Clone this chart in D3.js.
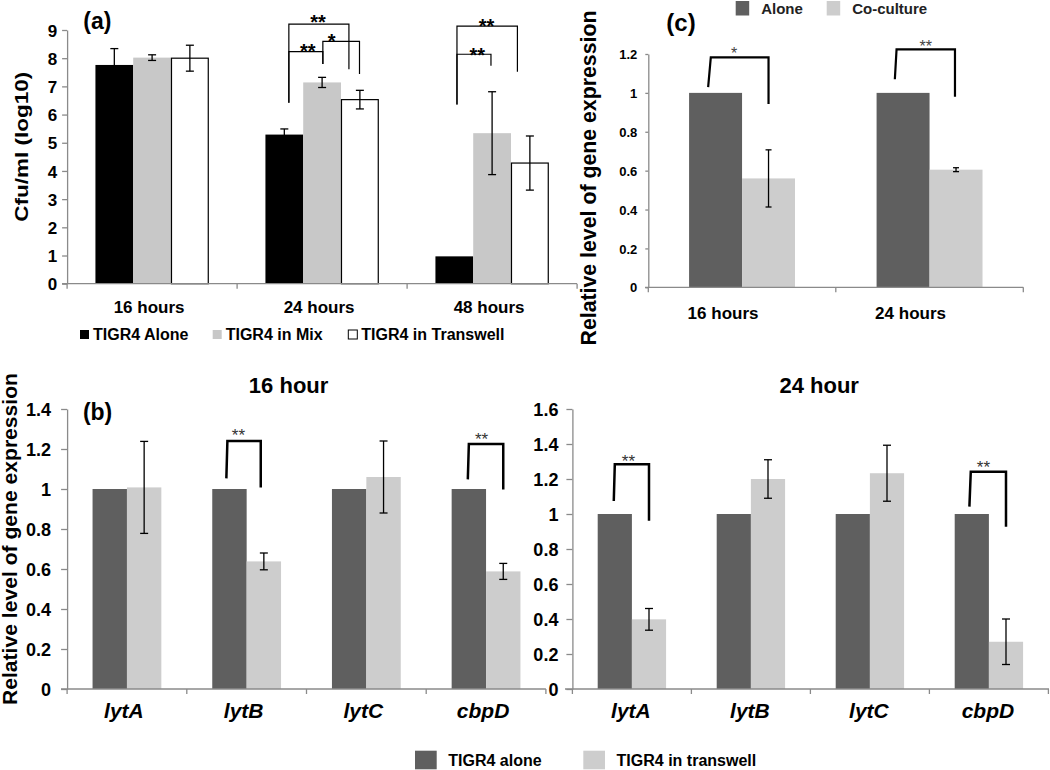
<!DOCTYPE html>
<html><head><meta charset="utf-8">
<script src="https://cdn.jsdelivr.net/npm/d3@7"></script>
<style>
body{margin:0;background:#fff}
svg{display:block}
text{font-family:"Liberation Sans",Arial,Helvetica,sans-serif}
</style>
</head><body>
<svg id="chart" width="1050" height="770"></svg>
<script>
// ---------------- DATA ----------------
// Panel (a)
const aCats = ["16 hours", "24 hours", "48 hours"];
const aSeries = ["TIGR4 Alone", "TIGR4 in Mix", "TIGR4 in Transwell"];
const aAlone = [7.76, 5.29, 0.97];
const aAloneErr = [0.58, 0.2, 0];
const aMix = [8.02, 7.14, 5.34];
const aMixErr = [0.1, 0.18, 1.47];
const aTrans = [8.0, 6.53, 4.28];
const aTransErr = [0.46, 0.33, 0.96];
const aTicks = [0, 1, 2, 3, 4, 5, 6, 7, 8, 9];
// significance brackets (x in bar-width units from group start, y in data units)
const aBrackets = [
  {cat: "24 hours", xl: 0.62, xlt: 0.62, xr: 2.21, yl: 6.42, yt: 9.21, yr: 7.61, label: "**", lx: 1.39, ly: 9.44},
  {cat: "24 hours", xl: 0.62, xlt: 0.62, xr: 1.52, yl: 6.42, yt: 8.23, yr: 7.79, label: "**", lx: 1.12, ly: 8.41},
  {cat: "24 hours", xl: 1.52, xlt: 1.52, xr: 2.49, yl: 7.79, yt: 8.6, yr: 7.44, label: "*", lx: 1.75, ly: 8.79},
  {cat: "48 hours", xl: 0.57, xlt: 0.57, xr: 2.17, yl: 6.36, yt: 9.14, yr: 7.52, label: "**", lx: 1.35, ly: 9.32},
  {cat: "48 hours", xl: 0.57, xlt: 0.57, xr: 1.47, yl: 6.36, yt: 8.14, yr: 7.73, label: "**", lx: 1.11, ly: 8.29}
];

// Panel (c)
const cCats = ["16 hours", "24 hours"];
const cSeries = ["Alone", "Co-culture"];
const cAlone = [1, 1];
const cCo = [0.56, 0.605];
const cCoErr = [0.147, 0.01];
const cTicks = [0, 0.2, 0.4, 0.6, 0.8, 1, 1.2];
const cBrackets = [
  {cat: "16 hours", xl: 0.36, xlt: 0.41, xr: 1.5, yl: 1.03, yt: 1.183, yr: 0.943, label: "*", lx: 0.85, ly: 1.221},
  {cat: "24 hours", xl: 0.345, xlt: 0.377, xr: 1.48, yl: 1.07, yt: 1.224, yr: 0.98, label: "**", lx: 0.93, ly: 1.258}
];

// Panel (b)
const bGenes = ["lytA", "lytB", "lytC", "cbpD"];
const bSeries = ["TIGR4 alone", "TIGR4 in transwell"];
const b16Alone = [1, 1, 1, 1];
const b16Trans = [1.008, 0.638, 1.06, 0.588];
const b16TransErr = [0.23, 0.042, 0.18, 0.04];
const b16Ticks = [0, 0.2, 0.4, 0.6, 0.8, 1, 1.2, 1.4];
const b16Brackets = [
  {cat: "lytB", xl: 0.41, xlt: 0.44, xr: 1.41, yl: 1.053, yt: 1.24, yr: 1.008, label: "**", lx: 0.76, ly: 1.287},
  {cat: "cbpD", xl: 0.47, xlt: 0.5, xr: 1.5, yl: 1.048, yt: 1.225, yr: 0.998, label: "**", lx: 0.87, ly: 1.27}
];
const b24Alone = [1, 1, 1, 1];
const b24Trans = [0.398, 1.2, 1.233, 0.27];
const b24TransErr = [0.062, 0.11, 0.16, 0.13];
const b24Ticks = [0, 0.2, 0.4, 0.6, 0.8, 1, 1.2, 1.4, 1.6];
const b24Brackets = [
  {cat: "lytA", xl: 0.47, xlt: 0.5, xr: 1.5, yl: 1.074, yt: 1.284, yr: 0.962, label: "**", lx: 0.9, ly: 1.327},
  {cat: "cbpD", xl: 0.43, xlt: 0.47, xr: 1.5, yl: 1.042, yt: 1.242, yr: 0.927, label: "**", lx: 0.84, ly: 1.293}
];

// ---------------- DRAW ----------------
const svg = d3.select("#chart");
const FONT = '"Liberation Sans", Arial, Helvetica, sans-serif';

function fmtNum(d) { return d3.format("~g")(d); }

function panel(o) {
  const g = svg.append("g");
  const y = d3.scaleLinear().domain(o.yDomain).range(o.yRange);
  const x = d3.scaleBand().domain(o.cats).range(o.xRange).paddingInner(0).paddingOuter(0);
  const xs = d3.scaleBand().domain(o.series).range([0, x.bandwidth()]).paddingInner(0).paddingOuter(o.padOuter);
  const bw = xs.bandwidth();
  const y0 = y(0);

  // bars
  o.series.forEach((s, si) => {
    const vals = o.values[si], errs = o.errs[si];
    g.append("g").selectAll("rect").data(o.cats).join("rect")
      .attr("x", (c) => x(c) + xs(s) + (o.stroke[si] ? 0.5 : 0))
      .attr("y", (c, i) => y(vals[i]))
      .attr("width", bw - (o.stroke[si] ? 1 : 0))
      .attr("height", (c, i) => y0 - y(vals[i]))
      .attr("fill", o.colors[si])
      .attr("stroke", o.stroke[si] || "none")
      .attr("stroke-width", o.stroke[si] ? 1.2 : 0);
    if (errs) {
      const eg = g.append("g").attr("stroke", "#000").attr("stroke-width", o.errW || 1.4).attr("fill", "none");
      o.cats.forEach((c, i) => {
        if (!errs[i]) return;
        const cx = x(c) + xs(s) + bw / 2;
        const t = y(vals[i] + errs[i]), b = y(vals[i] - errs[i]);
        const cap = o.cap || 4;
        eg.append("line").attr("x1", cx).attr("x2", cx).attr("y1", t).attr("y2", b);
        eg.append("line").attr("x1", cx - cap).attr("x2", cx + cap).attr("y1", t).attr("y2", t);
        eg.append("line").attr("x1", cx - cap).attr("x2", cx + cap).attr("y1", b).attr("y2", b);
      });
    }
  });

  // y axis
  const ya = g.append("g").attr("transform", `translate(${o.xRange[0]},0)`)
    .call(d3.axisLeft(y).tickValues(o.ticks).tickSize(o.tickSize).tickSizeOuter(0)
      .tickPadding(o.tickPad).tickFormat(fmtNum));
  ya.select(".domain").attr("stroke", o.axisColor).attr("stroke-width", 1.3);
  ya.selectAll(".tick line").attr("stroke", o.axisColor).attr("stroke-width", 1.3);
  ya.selectAll(".tick text").attr("font-family", FONT).attr("font-size", o.tickFont)
    .attr("font-weight", "bold").attr("fill", "#000").attr("dy", "0.36em");

  // x axis line and separator ticks
  g.append("line").attr("x1", o.axisStart).attr("x2", o.axisEnd).attr("y1", y0).attr("y2", y0)
    .attr("stroke", o.axisColor).attr("stroke-width", 1.3);
  const seps = o.cats.map((c) => x(c)).concat([o.xRange[1]]);
  g.append("g").selectAll("line").data(seps).join("line")
    .attr("x1", (d) => d).attr("x2", (d) => d).attr("y1", y0).attr("y2", y0 + 5)
    .attr("stroke", o.axisColor).attr("stroke-width", 1.3);

  // category labels
  g.append("g").selectAll("text").data(o.cats).join("text")
    .attr("x", (c) => x(c) + x.bandwidth() / 2 + (o.catDx || 0))
    .attr("y", o.catY)
    .attr("text-anchor", "middle")
    .attr("font-family", FONT).attr("font-size", o.catFont).attr("font-weight", "bold")
    .attr("font-style", o.catItalic ? "italic" : "normal")
    .attr("fill", "#000")
    .text((c) => c);

  // brackets
  (o.brackets || []).forEach((bk) => {
    const gx = x(bk.cat) + xs(o.series[0]);
    const px = (u) => gx + u * bw;
    const path = d3.path();
    path.moveTo(px(bk.xl), y(bk.yl));
    path.lineTo(px(bk.xlt), y(bk.yt));
    path.lineTo(px(bk.xr), y(bk.yt));
    path.lineTo(px(bk.xr), y(bk.yr));
    g.append("path").attr("d", path.toString()).attr("fill", "none")
      .attr("stroke", "#000").attr("stroke-width", o.bracketW).attr("stroke-linejoin", "miter");
    g.append("text").attr("x", px(bk.lx)).attr("y", y(bk.ly) + 0.58 * o.starFont)
      .attr("text-anchor", "middle").attr("font-family", FONT)
      .attr("font-size", o.starFont).attr("font-weight", o.starWeight)
      .attr("fill", o.starColor).text(bk.label);
  });
  return {x, y};
}

// Panel (a)
panel({
  cats: aCats, series: aSeries,
  values: [aAlone, aMix, aTrans], errs: [aAloneErr, aMixErr, aTransErr],
  colors: ["#000000", "#c8c8c8", "#ffffff"], stroke: [null, null, "#000"],
  yDomain: [0, 9], yRange: [283.7, 30], xRange: [67.1, 577.1], padOuter: 0.75,
  axisStart: 62, axisEnd: 577, axisColor: "#8a8a8a",
  ticks: aTicks, tickSize: 5, tickPad: 5, tickFont: 17,
  catY: 313, catFont: 17, catDx: -3,
  brackets: aBrackets, bracketW: 1.2, starFont: 20, starWeight: "bold", starColor: "#000",
  cap: 4, errW: 1.3
});

// Panel (c)
panel({
  cats: cCats, series: cSeries,
  values: [cAlone, cCo], errs: [null, cCoErr],
  colors: ["#5f5f5f", "#cdcdcd"], stroke: [null, null],
  yDomain: [0, 1.2], yRange: [287.3, 54], xRange: [648.3, 1023.3], padOuter: 0.77,
  axisStart: 645, axisEnd: 1023.3, axisColor: "#8a8a8a",
  ticks: cTicks, tickSize: 3, tickPad: 8, tickFont: 13,
  catY: 319, catFont: 17, catDx: -19,
  brackets: cBrackets, bracketW: 2.2, starFont: 16, starWeight: "normal", starColor: "#444",
  cap: 3, errW: 1.3
});

// Panel (b) 16 hour
panel({
  cats: bGenes, series: bSeries,
  values: [b16Alone, b16Trans], errs: [null, b16TransErr],
  colors: ["#5f5f5f", "#cdcdcd"], stroke: [null, null],
  yDomain: [0, 1.4], yRange: [689, 409], xRange: [67.1, 545.9], padOuter: 0.74,
  axisStart: 61, axisEnd: 545.9, axisColor: "#8a8a8a",
  ticks: b16Ticks, tickSize: 6, tickPad: 10, tickFont: 18,
  catY: 718, catFont: 21, catItalic: true, catDx: -3,
  brackets: b16Brackets, bracketW: 2.5, starFont: 17, starWeight: "normal", starColor: "#333",
  cap: 4, errW: 1.3
});

// Panel (b) 24 hour
panel({
  cats: bGenes, series: bSeries,
  values: [b24Alone, b24Trans], errs: [null, b24TransErr],
  colors: ["#5f5f5f", "#cdcdcd"], stroke: [null, null],
  yDomain: [0, 1.6], yRange: [689, 409], xRange: [572.4, 1048.4], padOuter: 0.74,
  axisStart: 565, axisEnd: 1049, axisColor: "#8a8a8a",
  ticks: b24Ticks, tickSize: 6, tickPad: 8, tickFont: 18,
  catY: 718, catFont: 21, catItalic: true, catDx: -1,
  brackets: b24Brackets, bracketW: 2.5, starFont: 17, starWeight: "normal", starColor: "#333",
  cap: 4, errW: 1.3
});

// ---------------- TEXT: labels, titles, legends ----------------
function txt(x, y, s, size, opts = {}) {
  const t = svg.append("text").attr("x", x).attr("y", y)
    .attr("font-family", FONT).attr("font-size", size)
    .attr("font-weight", opts.weight || "bold")
    .attr("text-anchor", opts.anchor || "start")
    .attr("fill", opts.fill || "#000").text(s);
  if (opts.rotate) t.attr("transform", `rotate(-90,${x},${y})`);
  if (opts.len) t.attr("textLength", opts.len).attr("lengthAdjust", "spacingAndGlyphs");
  return t;
}

// panel letters
txt(97.3, 28.5, "(a)", 23, {anchor: "middle"});
txt(97.6, 420, "(b)", 23, {anchor: "middle"});
txt(681, 31, "(c)", 24, {anchor: "middle"});

// axis titles
txt(28, 146.7, "Cfu/ml (log10)", 18, {anchor: "middle", rotate: true, len: 150});
txt(17, 539, "Relative level of gene expression", 20, {anchor: "middle", rotate: true, len: 332});
txt(596, 178, "Relative level of gene expression", 21.3, {anchor: "middle", rotate: true});

// panel (b) titles
txt(288.6, 393, "16 hour", 22, {anchor: "middle"});
txt(819.2, 393, "24 hour", 22, {anchor: "middle"});

// legend (a)
const aLegX = [80, 212.7, 348.3];
const aLegFill = ["#000000", "#c8c8c8", "#ffffff"];
aSeries.forEach((s, i) => {
  svg.append("rect").attr("x", aLegX[i]).attr("y", 330).attr("width", 9).attr("height", 9)
    .attr("fill", aLegFill[i]).attr("stroke", i === 2 ? "#000" : "none").attr("stroke-width", 1);
  txt(aLegX[i] + 13, 339.5, s, 16);
});

// legend (c)
const cLegX = [735.7, 826.7];
const cLegFill = ["#5f5f5f", "#cdcdcd"];
cSeries.forEach((s, i) => {
  svg.append("rect").attr("x", cLegX[i]).attr("y", 1).attr("width", 13.5).attr("height", 14.5).attr("fill", cLegFill[i]);
  txt(cLegX[i] + 25.5, 13.5, s, 15, {fill: "#222"});
});

// legend (b)
const bLegX = [415, 583.3];
bSeries.forEach((s, i) => {
  svg.append("rect").attr("x", bLegX[i]).attr("y", 750.7).attr("width", 21.7).attr("height", 18.6).attr("fill", cLegFill[i]);
  txt(bLegX[i] + 33.3, 766, s, 16);
});
</script>
</body></html>
